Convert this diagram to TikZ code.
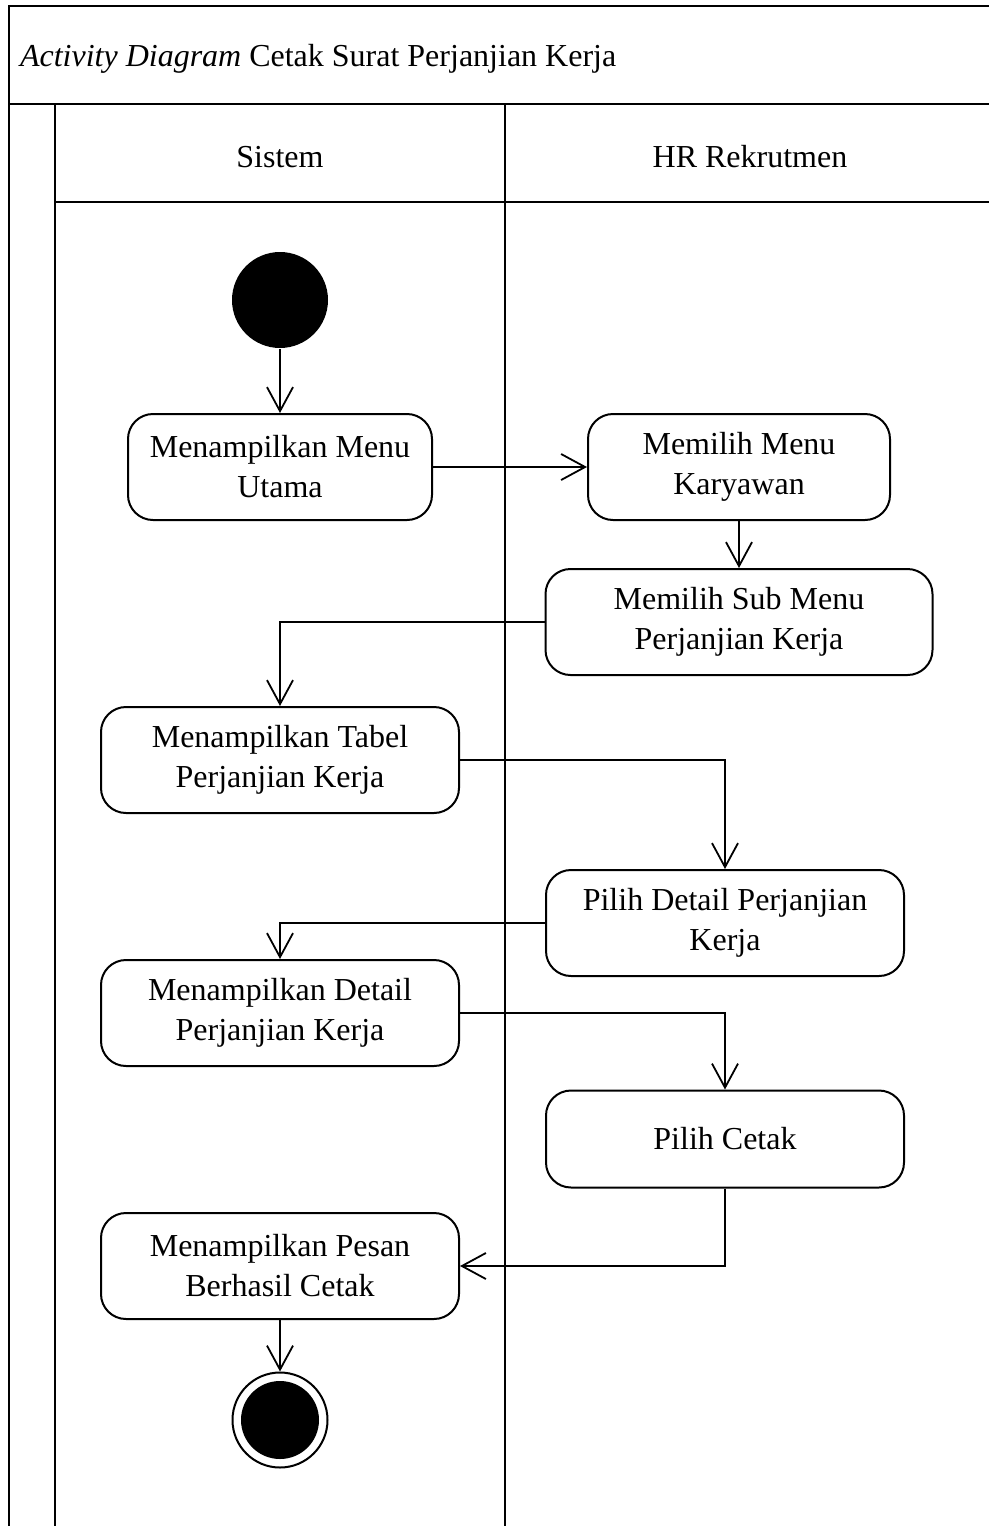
\documentclass[tikz,border=0pt]{standalone}
\usepackage{fontspec}
\setmainfont{Liberation Serif}
\usetikzlibrary{positioning, arrows.meta}

\begin{document}
\begin{tikzpicture}[x=1pt, y=-1pt, on grid, line width=2pt,
    font=\fontsize{32}{40}\selectfont,
    act/.style={draw, rounded corners=25pt, align=center, minimum width=358pt, minimum height=106pt},
    start/.style={circle, fill, minimum size=96pt, inner sep=0pt},
    stop/.style={circle, draw, minimum size=95pt, inner sep=0pt,
        path picture={\fill (path picture bounding box.center) circle (39pt);}},
    flow/.style={-{Straight Barb[length=24pt, width=26pt]}, line width=1.8pt},
    lane/.style={line width=2.4pt}]
    \useasboundingbox (0,0) rectangle (988,1526);

    % frame and swimlanes
    \draw[lane] (9,1530) -- (9,6) -- (995,6);
    \draw[lane] (9,104) -- (995,104);
    \draw[lane] (55,104) -- (55,1530);
    \draw[lane] (55,202) -- (995,202);
    \draw[lane] (505,104) -- (505,1530);

    \node[anchor=base west, inner sep=0pt] (title) at (19,66)
        {\textit{Activity Diagram} Cetak Surat Perjanjian Kerja};
    \node[anchor=base] (sistem) at (280,167) {Sistem};
    \node[anchor=base] (hr) at (750,167) {HR Rekrutmen};

    % activities
    \node[start] (S) at (280,300) {};
    \node[act, minimum width=304pt, below=167pt of S] (A1) {Menampilkan Menu\\Utama};
    \node[act, minimum width=302pt, right=459pt of A1] (B1) {Memilih Menu\\Karyawan};
    \node[act, minimum width=387pt, below=155pt of B1] (B2) {Memilih Sub Menu\\Perjanjian Kerja};
    \node[act, below=293pt of A1] (A2) {Menampilkan Tabel\\Perjanjian Kerja};
    \node[act, below right=163pt and 445pt of A2] (B3) {Pilih Detail Perjanjian\\Kerja};
    \node[act, below=253pt of A2] (A3) {Menampilkan Detail\\Perjanjian Kerja};
    \node[act, minimum height=97pt, below=216pt of B3] (B4) {Pilih Cetak};
    \node[act, below=253pt of A3] (A4) {Menampilkan Pesan\\Berhasil Cetak};
    \node[stop, below=154pt of A4] (E) {};

    % transitions
    \draw[flow] (S) -- (A1);
    \draw[flow] (A1) -- (B1);
    \draw[flow] (B1) -- (B2);
    \draw[flow] (B2.west) -| (A2.north);
    \draw[flow] (A2.east) -| (B3.north);
    \draw[flow] (B3.west) -| (A3.north);
    \draw[flow] (A3.east) -| (B4.north);
    \draw[flow] (B4.south) |- (A4.east);
    \draw[flow] (A4) -- (E);
\end{tikzpicture}
\end{document}
